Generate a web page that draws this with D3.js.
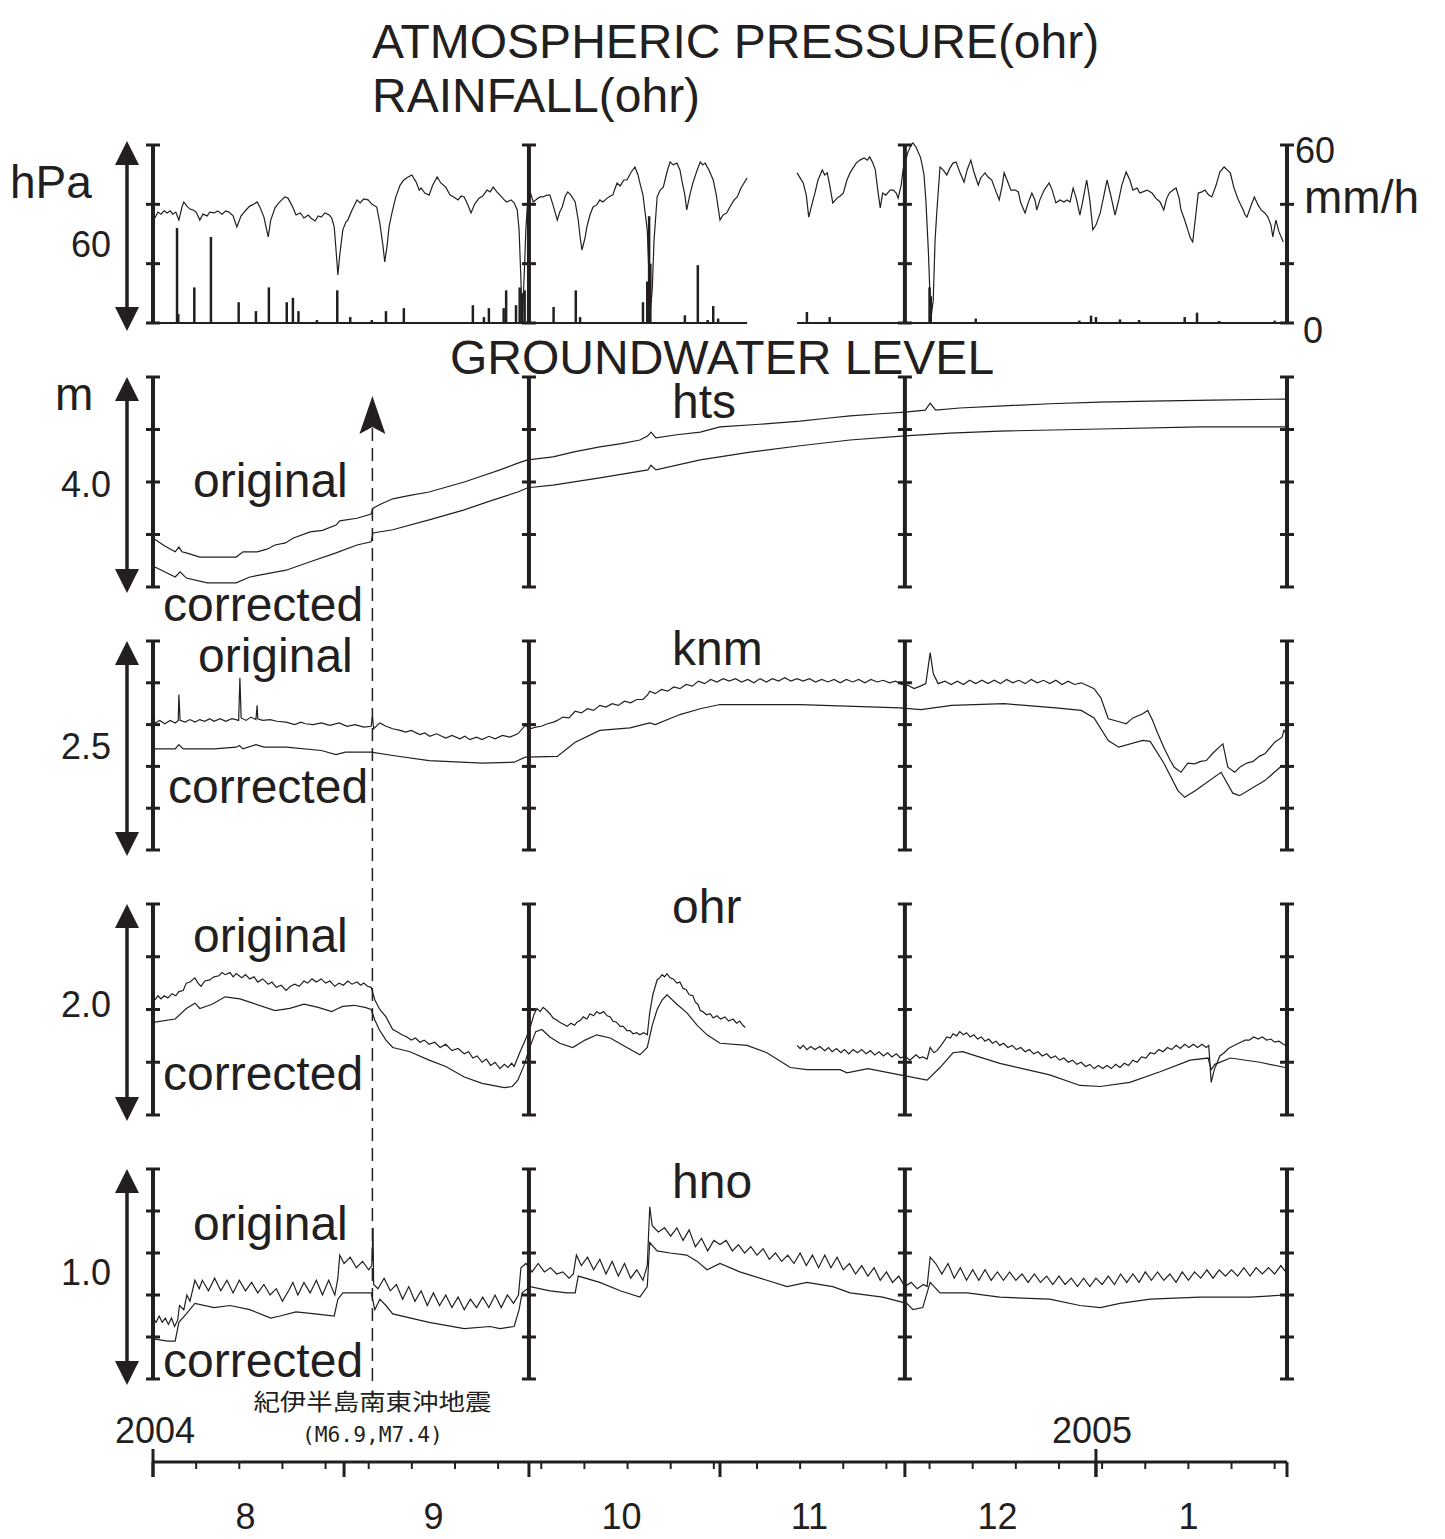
<!DOCTYPE html>
<html>
<head>
<meta charset="utf-8">
<script src="https://cdn.jsdelivr.net/npm/d3@7"></script>
<style>
  body { margin: 0; background: #fff; }
  text { font-family: "Liberation Sans", Arial, sans-serif; fill: #231f20; }
</style>
</head>
<body>
<svg id="chart" width="1445" height="1539"></svg>
<script>
// ---- data: day = days since 2004-08-01 ----
var monthLabels = ["8", "9", "10", "11", "12", "1"];
var monthStartDays = [0, 31, 61, 92, 122, 153, 184];
var yearLabels = ["2004", "2005"];
var yearStartDays = [0, 153];
var barDays = [0, 61, 122, 184];
var quakeDay = 35.6;
var quakeName = "紀伊半島南東沖地震";
var quakeMag = "(M6.9,M7.4)";
var missingStart = 96.4, missingEnd = 104.5;

var pressureSpan = 60;      // hPa shown by the arrow
var rainMax = 60;           // mm/h
// atmospheric pressure (hPa)
var pressure = [[0.3,1005.4],[0.8,1007.4],[1.3,1006.7],[1.8,1007.8],[2.3,1007.1],[2.8,1007.8],[3.2,1006.7],[3.7,1007.4],[4.2,1004.7],[4.7,1009.1],[5.0,1010.8],[5.5,1009.4],[6.0,1008.4],[6.5,1008.1],[7.0,1007.4],[7.6,1004.7],[8.1,1006.7],[8.8,1006.1],[9.2,1007.4],[9.9,1007.1],[10.5,1007.8],[11.2,1006.7],[11.8,1007.8],[12.3,1007.4],[13.0,1006.1],[13.6,1002.4],[14.3,1006.1],[15.1,1008.1],[15.7,1009.4],[16.4,1010.1],[16.9,1010.8],[17.4,1008.8],[18.0,1005.7],[18.3,1002.7],[18.7,999.0],[19.1,1004.7],[19.8,1008.8],[20.4,1010.5],[20.9,1011.5],[21.4,1012.5],[21.9,1012.1],[22.6,1009.4],[23.2,1006.4],[23.9,1007.1],[24.5,1005.4],[25.2,1006.4],[25.6,1005.4],[26.3,1004.4],[26.8,1006.1],[27.3,1005.7],[27.9,1007.1],[28.6,1006.4],[29.0,1005.4],[29.4,1002.4],[29.7,994.6],[30.0,986.2],[30.3,992.9],[30.8,1001.4],[31.3,1004.0],[31.6,1004.7],[32.3,1008.1],[33.1,1011.5],[33.6,1010.5],[34.2,1011.8],[34.9,1011.5],[35.5,1010.1],[36.3,1009.1],[36.8,1003.7],[37.3,996.3],[37.6,990.6],[38.0,996.3],[38.3,1002.4],[38.8,1007.4],[39.4,1012.5],[40.1,1016.5],[40.7,1018.2],[41.4,1019.2],[42.0,1019.9],[42.7,1017.5],[43.2,1014.8],[43.5,1015.5],[44.1,1013.8],[44.8,1013.1],[45.4,1016.5],[46.1,1019.2],[46.7,1017.2],[47.5,1015.8],[48.2,1013.1],[48.8,1012.5],[49.5,1011.5],[50.0,1012.8],[50.5,1012.5],[51.1,1009.8],[51.6,1007.1],[52.2,1010.1],[52.9,1012.1],[53.5,1012.8],[54.2,1014.8],[54.7,1014.2],[55.2,1015.8],[55.8,1014.2],[56.3,1013.1],[57.0,1011.5],[57.4,1010.8],[58.1,1011.5],[58.6,1010.5],[59.1,1008.1],[59.4,1001.4],[59.7,984.5],[59.9,970.3],[60.2,984.5],[60.5,1001.4],[60.8,1011.5],[61.2,1014.2],[61.7,1010.8],[62.3,1011.8],[62.8,1012.5],[63.3,1012.5],[63.9,1013.1],[64.4,1013.1],[64.9,1009.8],[65.6,1004.7],[66.0,1007.4],[66.4,1009.1],[66.9,1012.8],[67.3,1014.2],[67.8,1013.1],[68.5,1010.8],[69.0,1004.7],[69.3,999.0],[69.6,994.6],[70.1,998.7],[70.4,1002.4],[70.9,1006.4],[71.4,1009.1],[72.0,1009.8],[72.5,1011.5],[73.0,1010.8],[73.7,1012.1],[74.2,1012.8],[74.6,1013.1],[75.0,1015.5],[75.3,1017.2],[75.8,1016.2],[76.4,1018.2],[76.9,1018.2],[77.6,1020.9],[78.2,1022.6],[78.7,1019.9],[79.0,1017.2],[79.5,1013.1],[79.8,1008.1],[80.2,1001.4],[80.5,984.5],[80.6,971.7],[81.0,981.1],[81.3,998.0],[81.8,1012.5],[82.3,1014.8],[82.8,1015.8],[83.4,1020.9],[83.9,1024.3],[84.4,1023.3],[85.0,1023.9],[85.5,1021.6],[85.8,1018.2],[86.3,1013.1],[86.6,1008.1],[87.1,1013.1],[87.6,1017.2],[88.3,1021.6],[88.8,1024.3],[89.2,1023.3],[89.6,1023.9],[90.2,1021.6],[90.9,1018.2],[91.4,1013.1],[92.0,1004.7],[92.5,1006.4],[93.1,1007.1],[93.6,1009.1],[94.3,1011.5],[94.8,1012.5],[95.4,1015.5],[95.9,1017.2],[96.4,1018.9],[100,null],
  [104.5,1020.6],[105.0,1018.9],[105.5,1017.2],[106.0,1013.1],[106.4,1005.7],[106.9,1009.8],[107.4,1013.8],[107.9,1018.2],[108.6,1021.6],[109.0,1019.9],[109.4,1020.6],[109.8,1016.5],[110.3,1010.5],[111.0,1012.1],[111.5,1012.8],[112.0,1013.8],[112.6,1018.2],[113.1,1020.6],[113.4,1021.6],[114.1,1023.9],[114.7,1024.9],[115.4,1025.6],[115.9,1024.9],[116.3,1026.0],[116.8,1023.9],[117.2,1021.6],[117.6,1014.8],[118.0,1008.8],[118.4,1013.8],[118.9,1013.1],[119.6,1014.8],[120.1,1014.8],[120.6,1013.8],[120.9,1012.1],[121.4,1016.5],[121.7,1021.6],[122.0,1023.9],[122.5,1027.6],[123.0,1030.0],[123.3,1030.7],[123.8,1029.3],[124.5,1026.0],[124.8,1023.3],[125.1,1019.9],[125.4,1011.5],[125.8,994.6],[126.1,977.8],[126.2,971.0],[126.6,977.8],[126.9,998.0],[127.2,1008.1],[127.7,1022.6],[128.2,1021.6],[128.8,1019.9],[129.3,1022.2],[129.8,1023.9],[130.3,1024.3],[130.9,1020.9],[131.6,1017.5],[132.1,1021.6],[132.7,1024.9],[133.2,1020.9],[133.9,1016.5],[134.3,1018.9],[135.0,1020.6],[135.5,1019.2],[136.1,1018.2],[136.8,1014.2],[137.3,1011.5],[137.8,1016.5],[138.1,1020.6],[138.7,1017.5],[139.2,1014.8],[139.9,1014.8],[140.4,1014.2],[140.8,1010.5],[141.5,1007.1],[142.0,1010.5],[142.6,1013.8],[143.1,1011.5],[143.4,1008.1],[143.9,1011.5],[144.6,1014.8],[145.4,1017.2],[145.9,1014.8],[146.5,1010.5],[147.2,1011.5],[147.8,1010.8],[148.3,1011.5],[148.8,1010.8],[149.3,1015.5],[149.8,1012.1],[150.4,1006.4],[150.9,1011.5],[151.5,1018.2],[152.0,1011.5],[152.5,1001.4],[153.0,1003.0],[153.7,1007.1],[154.3,1013.1],[154.8,1018.2],[155.4,1013.1],[156.1,1006.4],[156.7,1011.5],[157.2,1016.5],[157.9,1020.9],[158.5,1018.2],[159.0,1014.8],[159.7,1015.5],[160.1,1013.8],[160.6,1014.2],[161.3,1014.8],[162.1,1013.8],[162.7,1012.1],[163.4,1010.8],[164.0,1008.1],[164.5,1012.1],[164.9,1013.8],[165.5,1014.8],[166.0,1015.5],[166.5,1012.1],[166.8,1008.1],[167.4,1004.7],[167.9,1001.4],[168.3,998.7],[168.7,997.3],[169.2,1006.4],[169.6,1013.8],[170.2,1014.2],[170.7,1014.8],[171.3,1013.1],[171.8,1012.5],[172.5,1016.5],[173.1,1020.9],[173.8,1022.6],[174.3,1021.6],[174.8,1020.6],[175.4,1015.5],[176.1,1011.5],[176.5,1009.8],[176.9,1008.1],[177.2,1006.4],[177.5,1005.7],[178.2,1009.8],[178.7,1012.5],[179.3,1009.8],[179.8,1008.1],[180.4,1007.1],[180.9,1005.7],[181.4,1003.0],[181.7,999.0],[182.2,1004.7],[182.7,1000.7],[183.4,997.3]];

// hourly rainfall peaks (mm/h)
var rainfall = [[3.9,32],[4.1,3],[6.7,12],[9.4,29],[13.9,7],[16.7,4],[18.8,12],[21.7,7],[22.7,8.5],[23.6,4],[26.6,1],[29.9,11],[32.0,2],[35.5,1],[37.8,4],[40.7,5],[51.9,6],[53.7,2],[54.5,5],[56.9,5],[57.3,11],[58.9,6],[59.5,12],[59.9,10],[60.3,11],[65.0,5.4],[68.6,11],[69.3,2],[79.5,7],[80.2,14],[80.5,36],[80.7,20],[86.3,2.6],[88.4,19.5],[90.0,1],[90.9,5.7],[91.7,1.5],[106.1,3.7],[109.8,2],[126.0,12],[126.2,9],[133.5,1.5],[150.3,0.8],[152.2,2.5],[153.0,2],[156.9,1.2],[160.0,1],[167.4,2],[169.4,3.5],[173.0,0.7],[182.0,0.8]];

// groundwater level (m, relative)
var gwStations = ["hts", "knm", "ohr", "hno"];
var gwSpans = [4.0, 2.5, 2.0, 1.0];
var gwTickSteps = [1.0, 0.5, 0.5, 0.2];

var htsOriginal = [[0.3,0.91],[1.9,0.78],[3.6,0.67],[4.2,0.76],[4.7,0.67],[5.4,0.65],[7.6,0.57],[10.5,0.57],[13.5,0.57],[14.6,0.67],[16.9,0.67],[18.5,0.72],[19.8,0.80],[21.5,0.84],[22.7,0.93],[25.5,1.05],[27.5,1.08],[29.7,1.18],[30.3,1.26],[33.1,1.31],[35.4,1.39],[35.7,1.50],[37.0,1.58],[38.9,1.68],[41.5,1.74],[44.8,1.81],[47.5,1.90],[50.5,2.00],[53.5,2.12],[56.3,2.23],[59.2,2.36],[60.8,2.42],[64.9,2.48],[68.5,2.58],[72.5,2.67],[76.0,2.73],[79.0,2.80],[80.3,2.88],[80.8,2.95],[81.6,2.84],[85.0,2.90],[88.8,2.95],[92.0,3.05],[98.5,3.10],[105.0,3.16],[109.0,3.21],[113.1,3.26],[118.0,3.30],[122.0,3.33],[125.3,3.37],[126.1,3.50],[127.0,3.37],[130.9,3.41],[138.0,3.45],[145.5,3.49],[153.5,3.52],[161.8,3.54],[172.0,3.56],[183.7,3.58]];
var htsCorrected = [[0.3,0.38],[3.6,0.19],[4.4,0.29],[5.4,0.17],[8.8,0.08],[13.5,0.08],[15.7,0.19],[21.6,0.32],[25.5,0.48],[29.7,0.65],[33.1,0.80],[35.4,0.86],[35.7,1.03],[38.9,1.09],[44.8,1.28],[50.5,1.47],[55.0,1.65],[59.2,1.81],[60.8,1.89],[64.9,1.94],[72.5,2.08],[80.3,2.23],[80.8,2.32],[81.6,2.23],[88.8,2.42],[96.9,2.57],[105.0,2.69],[113.1,2.80],[122.0,2.88],[129.3,2.93],[137.4,2.97],[153.7,3.01],[169.9,3.05],[183.7,3.05]];

var knmOriginal = [[0.3,1.52],[1.1,1.55],[1.9,1.51],[2.8,1.55],[3.6,1.52],[4.1,1.55],[4.2,1.86],[4.4,1.55],[5.2,1.53],[6.0,1.56],[6.8,1.53],[7.6,1.56],[8.4,1.54],[9.2,1.57],[9.9,1.54],[10.9,1.57],[11.8,1.54],[12.8,1.57],[13.9,1.55],[14.1,2.06],[14.3,1.58],[15.1,1.55],[15.9,1.59],[16.7,1.56],[16.9,1.73],[17.0,1.57],[17.8,1.55],[19.0,1.56],[20.1,1.54],[21.6,1.53],[23.0,1.50],[24.0,1.53],[24.7,1.51],[26.0,1.50],[27.3,1.52],[28.7,1.49],[30.2,1.52],[31.5,1.48],[32.8,1.50],[34.2,1.47],[35.4,1.48],[35.6,1.60],[35.8,1.45],[36.8,1.52],[37.8,1.48],[38.9,1.45],[40.1,1.43],[41.0,1.41],[41.9,1.43],[43.3,1.38],[44.1,1.40],[44.9,1.36],[46.0,1.39],[47.5,1.34],[48.5,1.37],[49.8,1.33],[50.6,1.36],[51.4,1.32],[52.5,1.35],[53.4,1.32],[54.5,1.36],[55.5,1.33],[56.7,1.37],[57.9,1.35],[59.2,1.39],[60.4,1.49],[61.2,1.45],[62.1,1.47],[63.0,1.48],[64.0,1.51],[65.0,1.53],[65.6,1.55],[66.5,1.59],[67.5,1.58],[68.5,1.66],[69.5,1.64],[70.5,1.69],[71.5,1.67],[72.5,1.73],[73.5,1.71],[74.5,1.75],[75.5,1.73],[76.5,1.78],[77.5,1.76],[78.5,1.80],[79.5,1.80],[80.3,1.86],[80.6,1.90],[81.5,1.87],[82.5,1.92],[83.5,1.90],[84.5,1.95],[85.5,1.93],[86.5,1.98],[87.5,1.96],[88.5,2.02],[89.5,1.99],[90.5,2.04],[91.5,2.01],[92.5,2.05],[93.5,2.02],[94.5,2.05],[95.5,2.01],[96.5,2.04],[97.5,2.00],[98.5,2.05],[99.5,2.01],[100.5,2.05],[101.5,2.02],[102.5,2.06],[103.5,2.02],[104.5,2.05],[105.5,2.02],[106.5,2.05],[107.5,2.01],[108.5,2.04],[109.5,2.01],[110.5,2.04],[111.5,2.00],[112.5,2.04],[113.5,2.01],[114.5,2.04],[115.5,2.00],[116.5,2.04],[117.5,2.01],[118.5,2.03],[119.5,2.00],[120.5,2.02],[121.5,1.98],[122.5,1.97],[123.5,1.93],[124.5,1.96],[125.4,1.99],[126.1,2.36],[126.6,2.11],[127.4,1.99],[128.5,2.02],[129.5,1.98],[130.5,2.02],[131.5,1.98],[132.5,2.03],[133.5,1.99],[134.5,2.03],[135.5,1.99],[136.5,2.03],[137.5,1.99],[138.5,2.04],[139.5,2.00],[140.5,2.03],[141.5,1.99],[142.5,2.04],[143.5,2.00],[144.5,2.03],[145.5,1.99],[146.5,2.03],[147.5,1.98],[148.5,2.02],[149.5,1.98],[150.6,2.00],[151.5,1.97],[152.7,1.93],[153.8,1.82],[155.0,1.57],[156.5,1.54],[157.9,1.51],[159.0,1.58],[160.6,1.63],[161.4,1.67],[162.2,1.55],[163.0,1.40],[164.0,1.23],[165.0,1.08],[165.7,0.99],[166.8,0.93],[167.9,1.04],[169.0,1.03],[170.0,1.06],[170.9,1.07],[172.0,1.16],[173.0,1.23],[173.6,1.27],[174.4,0.99],[175.5,0.93],[176.5,1.00],[177.5,1.04],[178.5,1.06],[179.5,1.12],[180.4,1.15],[181.2,1.22],[182.0,1.29],[183.2,1.35],[183.5,1.43],[183.8,1.40]];
var knmCorrected = [[0.3,1.21],[3.6,1.21],[4.2,1.26],[4.9,1.21],[9.9,1.21],[13.5,1.23],[14.0,1.25],[14.6,1.21],[16.7,1.26],[18.0,1.23],[21.6,1.23],[27.3,1.19],[29.7,1.14],[31.2,1.17],[35.4,1.17],[38.9,1.13],[44.8,1.07],[53.4,1.04],[58.6,1.05],[60.4,1.11],[65.6,1.12],[68.5,1.29],[72.5,1.43],[77.4,1.46],[80.6,1.52],[81.5,1.50],[85.5,1.62],[88.8,1.69],[92.0,1.74],[105.0,1.74],[121.2,1.70],[124.6,1.68],[129.6,1.73],[138.1,1.75],[146.5,1.70],[150.6,1.67],[152.7,1.58],[155.0,1.31],[156.7,1.23],[160.6,1.31],[161.8,1.30],[164.0,1.04],[166.3,0.71],[167.4,0.63],[169.1,0.71],[173.3,0.93],[175.2,0.68],[176.3,0.65],[180.4,0.83],[183.2,1.01]];

var ohrOriginal = [[0.3,1.09],[0.8,1.13],[1.3,1.10],[1.8,1.13],[2.4,1.11],[3.1,1.15],[3.7,1.13],[4.2,1.17],[4.9,1.18],[5.4,1.25],[6.0,1.26],[6.8,1.30],[7.3,1.25],[7.8,1.22],[8.4,1.27],[9.2,1.28],[9.9,1.31],[10.7,1.32],[11.2,1.35],[11.7,1.33],[12.5,1.35],[13.0,1.31],[13.5,1.34],[14.4,1.30],[15.0,1.33],[15.7,1.29],[16.4,1.31],[17.0,1.26],[17.8,1.29],[18.7,1.24],[19.3,1.26],[20.0,1.21],[20.8,1.23],[21.6,1.18],[22.3,1.22],[23.0,1.24],[23.7,1.22],[24.5,1.27],[25.1,1.25],[25.8,1.29],[26.5,1.26],[27.3,1.29],[28.0,1.25],[28.7,1.27],[29.5,1.22],[30.2,1.25],[30.9,1.23],[31.6,1.27],[32.3,1.24],[33.1,1.26],[33.7,1.23],[34.2,1.25],[34.8,1.22],[35.4,1.21],[36.0,1.09],[36.8,1.00],[37.8,0.93],[38.9,0.81],[39.6,0.79],[40.4,0.76],[41.2,0.74],[41.9,0.71],[42.6,0.73],[43.3,0.69],[44.0,0.71],[44.8,0.67],[45.7,0.69],[46.6,0.64],[47.5,0.67],[48.5,0.61],[49.5,0.63],[50.5,0.58],[51.2,0.60],[51.9,0.54],[52.6,0.56],[53.4,0.50],[54.1,0.53],[54.8,0.47],[55.5,0.50],[56.3,0.44],[57.0,0.48],[57.6,0.45],[58.2,0.49],[58.6,0.46],[59.5,0.59],[60.4,0.71],[61.2,0.83],[61.8,0.95],[62.3,1.01],[62.8,0.98],[63.3,1.02],[63.9,0.99],[64.4,0.96],[64.9,0.92],[65.5,0.90],[66.0,0.88],[66.6,0.86],[67.2,0.84],[67.8,0.87],[68.4,0.85],[68.8,0.88],[69.4,0.90],[69.8,0.93],[70.4,0.91],[70.9,0.96],[71.5,0.94],[72.0,0.98],[72.5,0.96],[73.1,0.98],[73.7,0.94],[74.2,0.93],[74.6,0.89],[75.2,0.88],[75.8,0.84],[76.3,0.84],[76.9,0.80],[77.4,0.80],[77.9,0.77],[78.5,0.78],[79.0,0.76],[79.6,0.78],[80.2,0.76],[80.6,0.97],[81.1,1.14],[81.8,1.28],[82.2,1.30],[82.6,1.33],[83.0,1.31],[83.4,1.34],[83.9,1.30],[84.4,1.29],[85.0,1.25],[85.5,1.26],[86.0,1.20],[86.5,1.19],[87.0,1.14],[87.6,1.13],[88.0,1.07],[88.4,1.05],[88.8,0.99],[89.2,0.98],[89.8,0.95],[90.4,0.96],[90.9,0.92],[91.5,0.94],[92.1,0.91],[92.8,0.93],[93.4,0.89],[94.1,0.91],[94.7,0.87],[95.2,0.89],[95.7,0.85],[96.1,0.83],[100,null],
  [104.5,0.66],[105.0,0.63],[105.5,0.66],[106.1,0.62],[106.7,0.65],[107.4,0.62],[108.2,0.65],[109.0,0.61],[109.6,0.64],[110.2,0.60],[110.9,0.63],[111.6,0.59],[112.2,0.62],[112.9,0.58],[113.6,0.62],[114.3,0.59],[115.0,0.62],[115.7,0.58],[116.4,0.61],[117.1,0.57],[117.8,0.60],[118.5,0.56],[119.2,0.59],[119.9,0.55],[120.6,0.58],[121.3,0.54],[122.0,0.56],[122.8,0.52],[123.4,0.55],[123.8,0.57],[124.4,0.54],[124.9,0.55],[125.6,0.53],[126.1,0.64],[126.7,0.59],[127.2,0.61],[128.0,0.67],[128.8,0.74],[129.4,0.73],[129.8,0.77],[130.4,0.75],[130.9,0.79],[131.5,0.76],[132.0,0.78],[132.6,0.74],[133.2,0.76],[133.8,0.72],[134.4,0.74],[135.0,0.70],[135.6,0.72],[136.2,0.68],[136.8,0.70],[137.4,0.66],[138.0,0.68],[138.7,0.64],[139.4,0.66],[140.1,0.62],[140.8,0.64],[141.5,0.60],[142.2,0.62],[142.9,0.58],[143.6,0.60],[144.3,0.56],[145.0,0.58],[145.7,0.54],[146.4,0.56],[147.1,0.52],[147.8,0.54],[148.5,0.50],[149.2,0.52],[149.9,0.48],[150.6,0.50],[151.3,0.46],[152.0,0.48],[152.7,0.44],[153.4,0.47],[154.1,0.44],[154.8,0.47],[155.5,0.44],[156.2,0.48],[156.9,0.45],[157.6,0.49],[158.3,0.47],[159.0,0.52],[159.7,0.50],[160.4,0.55],[161.1,0.54],[161.8,0.59],[162.5,0.58],[163.2,0.62],[163.9,0.60],[164.6,0.64],[165.3,0.62],[166.0,0.66],[166.7,0.63],[167.4,0.67],[168.1,0.64],[168.8,0.67],[169.5,0.64],[170.2,0.67],[170.9,0.64],[171.3,0.66],[171.7,0.31],[172.2,0.43],[172.7,0.50],[173.1,0.56],[173.8,0.59],[174.5,0.63],[175.1,0.65],[175.8,0.67],[176.5,0.69],[177.2,0.71],[177.9,0.71],[178.6,0.74],[179.3,0.72],[180.0,0.74],[180.7,0.71],[181.4,0.72],[182.0,0.69],[182.7,0.70],[183.4,0.67],[183.8,0.66]];
var ohrCorrected = [[0.3,0.88],[3.6,0.91],[5.4,1.01],[6.8,1.06],[7.6,1.01],[9.6,1.05],[11.7,1.12],[14.1,1.10],[15.7,1.07],[19.8,0.99],[22.2,1.01],[24.5,1.05],[26.8,1.02],[29.0,0.98],[30.0,1.01],[30.8,1.03],[32.6,1.04],[34.4,1.02],[35.4,1.00],[36.0,0.90],[36.7,0.81],[37.8,0.71],[38.9,0.64],[41.7,0.60],[44.8,0.52],[47.5,0.46],[50.5,0.36],[53.4,0.30],[57.0,0.26],[58.3,0.27],[59.2,0.33],[60.2,0.47],[61.0,0.62],[62.1,0.79],[63.1,0.81],[64.4,0.74],[66.0,0.68],[68.1,0.64],[70.1,0.71],[72.0,0.76],[74.2,0.73],[76.6,0.65],[79.0,0.57],[80.2,0.64],[81.0,0.85],[81.8,1.00],[82.6,1.09],[83.4,1.14],[85.0,1.05],[86.6,0.97],[88.3,0.85],[89.9,0.76],[92.0,0.68],[96.4,0.66],[99.6,0.59],[103.4,0.45],[106.1,0.43],[111.5,0.43],[112.6,0.40],[116.0,0.44],[121.2,0.38],[125.6,0.33],[127.7,0.45],[129.8,0.59],[131.4,0.60],[133.0,0.57],[137.4,0.49],[145.5,0.38],[150.4,0.28],[153.7,0.27],[158.5,0.31],[163.4,0.41],[168.3,0.52],[171.2,0.54],[171.7,0.43],[172.3,0.48],[174.8,0.54],[179.6,0.50],[183.7,0.45]];

var hnoOriginal = [[0,0.29],[0.5,0.27],[1,0.30],[1.5,0.27],[2,0.29],[2.5,0.26],[3,0.29],[3.5,0.25],[4,0.28],[4.3,0.35],[5,0.33],[5.5,0.40],[6,0.37],[6.8,0.47],[7.5,0.43],[8,0.47],[9,0.42],[10,0.48],[11,0.42],[12,0.47],[13,0.41],[14,0.47],[15,0.42],[16,0.46],[17,0.41],[18,0.45],[19,0.40],[20,0.43],[21,0.37],[22,0.42],[22.7,0.46],[23.5,0.40],[24.5,0.46],[25.5,0.41],[26.5,0.47],[27.5,0.40],[28.5,0.47],[29.5,0.40],[30,0.48],[30.3,0.59],[31,0.55],[32,0.58],[33,0.53],[34,0.56],[35,0.52],[35.5,0.54],[35.7,0.72],[35.8,0.45],[36.5,0.43],[37.5,0.48],[38.5,0.42],[39.5,0.45],[40.5,0.38],[41.5,0.44],[42.5,0.37],[43.5,0.42],[44.5,0.35],[45.5,0.41],[46.5,0.35],[47.5,0.40],[48.5,0.34],[49.5,0.39],[50.5,0.33],[51.5,0.38],[52.5,0.34],[53.5,0.39],[54.5,0.34],[55.5,0.40],[56.5,0.34],[57.5,0.40],[58.5,0.36],[59.3,0.40],[59.7,0.53],[60.5,0.55],[61.5,0.51],[62.5,0.55],[63.5,0.51],[64.5,0.53],[65.5,0.50],[66.5,0.51],[67.5,0.48],[68.2,0.50],[68.7,0.59],[69.5,0.54],[70.5,0.58],[71.5,0.52],[72.5,0.57],[73.5,0.50],[74.5,0.56],[75.5,0.49],[76.5,0.55],[77.5,0.48],[78.5,0.52],[79.5,0.47],[80.2,0.54],[80.6,0.82],[81,0.73],[82,0.70],[83,0.72],[84,0.68],[85,0.72],[86,0.66],[87,0.71],[88,0.63],[89,0.67],[90,0.61],[91,0.66],[92,0.64],[93,0.66],[94,0.61],[95,0.64],[96,0.60],[97,0.63],[98,0.59],[99,0.62],[100,0.57],[101,0.60],[102,0.56],[103,0.59],[104,0.55],[105,0.60],[106,0.54],[107,0.59],[108,0.53],[109,0.59],[110,0.53],[111,0.58],[112,0.52],[113,0.55],[114,0.50],[115,0.54],[116,0.49],[117,0.53],[118,0.47],[119,0.51],[120,0.46],[121,0.49],[122,0.44],[123,0.46],[124,0.43],[125,0.45],[125.6,0.44],[126.1,0.58],[127,0.55],[128,0.50],[129,0.55],[130,0.48],[131,0.53],[132,0.47],[133,0.52],[134,0.47],[135,0.52],[136,0.47],[137,0.51],[138,0.47],[139,0.51],[140,0.47],[141,0.50],[142,0.46],[143,0.50],[144,0.46],[145,0.49],[146,0.45],[147,0.49],[148,0.45],[149,0.48],[150,0.44],[151,0.48],[152,0.44],[153,0.48],[154,0.45],[155,0.49],[156,0.45],[157,0.50],[158,0.46],[159,0.50],[160,0.46],[161,0.51],[162,0.47],[163,0.51],[164,0.47],[165,0.50],[166,0.46],[167,0.51],[168,0.47],[169,0.51],[170,0.48],[171,0.52],[172,0.48],[173,0.52],[174,0.49],[175,0.52],[176,0.49],[177,0.53],[178,0.49],[179,0.53],[180,0.50],[181,0.53],[182,0.50],[183,0.54],[183.8,0.51]];
var hnoCorrected = [[0.3,0.19],[2.4,0.18],[3.6,0.18],[4.2,0.27],[5.4,0.31],[6.8,0.36],[9.9,0.34],[12.5,0.35],[15.7,0.33],[19.1,0.29],[20.6,0.30],[23.2,0.32],[26.3,0.31],[29.4,0.30],[30.0,0.38],[30.8,0.41],[35.4,0.41],[36.0,0.33],[36.8,0.38],[37.8,0.35],[38.9,0.31],[44.8,0.27],[50.5,0.24],[54.7,0.25],[56.3,0.24],[58.6,0.25],[59.4,0.33],[59.9,0.41],[61.2,0.44],[64.4,0.42],[67.2,0.41],[68.5,0.41],[69.0,0.49],[72.5,0.46],[75.8,0.42],[79.0,0.39],[80.2,0.44],[80.6,0.65],[81.8,0.61],[83.9,0.60],[86.6,0.59],[88.3,0.56],[89.9,0.52],[92.0,0.55],[95.2,0.51],[99.6,0.47],[102.9,0.44],[106.1,0.46],[110.3,0.44],[113.1,0.41],[118.4,0.39],[122.3,0.36],[123.3,0.33],[124.9,0.34],[126.1,0.46],[127.7,0.41],[132.1,0.41],[137.4,0.39],[145.5,0.38],[150.4,0.35],[153.7,0.34],[156.9,0.36],[161.8,0.38],[169.9,0.39],[178.0,0.39],[183.7,0.40]];

var gwOriginal = [htsOriginal, knmOriginal, ohrOriginal, hnoOriginal];
var gwCorrected = [htsCorrected, knmCorrected, ohrCorrected, hnoCorrected];

// ---- layout ----
var svg = d3.select("#chart");
svg.append("rect").attr("width", 1445).attr("height", 1539).attr("fill", "#fff");
var ink = "#231f20";

var x = d3.scaleLinear().domain([0, 184]).range([153, 1287]);

var line = function(yScale) {
  return d3.line()
    .defined(function(d) { return d[1] !== null; })
    .x(function(d) { return x(d[0]); })
    .y(function(d) { return yScale(d[1]); });
};

// vertical bar with cross ticks (I-beam)
function drawBars(yScale, ticks) {
  var r = yScale.range();
  barDays.forEach(function(day) {
    var bx = x(day);
    svg.append("line")
      .attr("x1", bx).attr("x2", bx)
      .attr("y1", r[1]).attr("y2", r[0])
      .attr("stroke", ink).attr("stroke-width", 4);
    ticks.forEach(function(t) {
      svg.append("line")
        .attr("x1", bx - 7).attr("x2", bx + 7)
        .attr("y1", yScale(t)).attr("y2", yScale(t))
        .attr("stroke", ink).attr("stroke-width", 3);
    });
  });
}

// double headed arrow on the left
function drawArrow(top, bottom) {
  var ax = 127;
  svg.append("line")
    .attr("x1", ax).attr("x2", ax)
    .attr("y1", top + 15).attr("y2", bottom - 15)
    .attr("stroke", ink).attr("stroke-width", 3.5);
  svg.append("path")
    .attr("d", "M" + ax + "," + top + "L" + (ax + 12) + "," + (top + 24) + "L" + (ax - 12) + "," + (top + 24) + "Z")
    .attr("fill", ink);
  svg.append("path")
    .attr("d", "M" + ax + "," + bottom + "L" + (ax + 12) + "," + (bottom - 24) + "L" + (ax - 12) + "," + (bottom - 24) + "Z")
    .attr("fill", ink);
}

function label(txt, lx, ly, size, anchor) {
  return svg.append("text")
    .attr("x", lx).attr("y", ly)
    .attr("font-size", size)
    .attr("text-anchor", anchor || "start")
    .text(txt);
}

// ---- titles ----
label("ATMOSPHERIC PRESSURE(ohr)", 372, 58, 48);
label("RAINFALL(ohr)", 372, 112, 48);
label("GROUNDWATER LEVEL", 450, 374, 48);

// ---- pressure / rainfall panel ----
var pTop = 145, pBottom = 323;
var yP = d3.scaleLinear().domain([970, 970 + pressureSpan]).range([pBottom, pTop]);
var yR = d3.scaleLinear().domain([0, rainMax]).range([pBottom, pTop]);

drawBars(yP, d3.range(970, 970 + pressureSpan + 1, 20));
drawArrow(pTop - 4, pBottom + 8);
label("hPa", 10, 198, 46);
label(d3.format("d")(pressureSpan), 111, 257, 36, "end");
label(d3.format("d")(rainMax), 1295, 163, 36);
label("mm/h", 1304, 213, 46);
label("0", 1303, 343, 36);

// rain baseline over the recording periods
[[0, missingStart], [missingEnd, 184]].forEach(function(seg) {
  svg.append("line")
    .attr("x1", x(seg[0])).attr("x2", x(seg[1]))
    .attr("y1", yR(0)).attr("y2", yR(0))
    .attr("stroke", ink).attr("stroke-width", 2);
});

svg.selectAll(".rain")
  .data(rainfall)
  .enter().append("line")
    .attr("class", "rain")
    .attr("x1", function(d) { return x(d[0]); })
    .attr("x2", function(d) { return x(d[0]); })
    .attr("y1", yR(0))
    .attr("y2", function(d) { return yR(d[1]); })
    .attr("stroke", ink).attr("stroke-width", 2.5);

svg.append("path")
  .datum(pressure)
  .attr("d", line(yP))
  .attr("fill", "none").attr("stroke", ink).attr("stroke-width", 1.2);

// ---- groundwater panels ----
var gwLayout = [
  {top: 377, bottom: 587, nameY: 418, orig: [193, 497], corr: [163, 621], spanY: 497},
  {top: 641, bottom: 850, nameY: 665, orig: [198, 672], corr: [168, 803], spanY: 759},
  {top: 904, bottom: 1115, nameY: 923, orig: [193, 952], corr: [163, 1090], spanY: 1017},
  {top: 1169, bottom: 1379, nameY: 1198, orig: [193, 1240], corr: [163, 1377], spanY: 1285}
];

gwStations.forEach(function(name, i) {
  var L = gwLayout[i];
  var span = gwSpans[i];
  var yG = d3.scaleLinear().domain([0, span]).range([L.bottom, L.top]);
  var ticks = d3.range(0, span + gwTickSteps[i] / 2, gwTickSteps[i]);

  drawBars(yG, ticks);
  drawArrow(L.top, L.bottom + 6);
  label(d3.format(".1f")(span), 111, L.spanY, 36, "end");
  if (i === 0) label("m", 55, 410, 46);

  label(name, 672, L.nameY, 48);
  label("original", L.orig[0], L.orig[1], 48);
  label("corrected", L.corr[0], L.corr[1], 48);

  svg.append("path")
    .datum(gwOriginal[i])
    .attr("d", line(yG))
    .attr("fill", "none").attr("stroke", ink).attr("stroke-width", 1.2);
  svg.append("path")
    .datum(gwCorrected[i])
    .attr("d", line(yG))
    .attr("fill", "none").attr("stroke", ink).attr("stroke-width", 1.2);
});

// ---- earthquake marker ----
var qx = x(quakeDay);
svg.append("line")
  .attr("x1", qx).attr("x2", qx)
  .attr("y1", 428).attr("y2", 1382)
  .attr("stroke", ink).attr("stroke-width", 1.5)
  .attr("stroke-dasharray", "13,7");
svg.append("path")
  .attr("d", "M" + qx + ",396L" + (qx + 13) + ",434L" + qx + ",427L" + (qx - 13) + ",434Z")
  .attr("fill", ink);

svg.append("text")
  .attr("x", qx).attr("y", 1410)
  .attr("text-anchor", "middle")
  .attr("font-size", 23)
  .attr("textLength", 238).attr("lengthAdjust", "spacingAndGlyphs")
  .style("font-family", "'Noto Sans CJK JP', sans-serif")
  .text(quakeName);
svg.append("text")
  .attr("x", qx).attr("y", 1442)
  .attr("text-anchor", "middle")
  .attr("font-size", 22)
  .attr("textLength", 141).attr("lengthAdjust", "spacingAndGlyphs")
  .style("font-family", "'DejaVu Sans Mono', monospace")
  .text(quakeMag);

// ---- bottom time axis ----
var axisY = 1462;
svg.append("line")
  .attr("x1", x(0)).attr("x2", x(184))
  .attr("y1", axisY).attr("y2", axisY)
  .attr("stroke", ink).attr("stroke-width", 3);

d3.range(0, 184, 7).forEach(function(day) {
  svg.append("line")
    .attr("x1", x(day)).attr("x2", x(day))
    .attr("y1", axisY).attr("y2", axisY + 7)
    .attr("stroke", ink).attr("stroke-width", 2);
});
monthStartDays.forEach(function(day) {
  svg.append("line")
    .attr("x1", x(day)).attr("x2", x(day))
    .attr("y1", axisY).attr("y2", axisY + 15)
    .attr("stroke", ink).attr("stroke-width", 3);
});
yearStartDays.forEach(function(day, i) {
  svg.append("line")
    .attr("x1", x(day)).attr("x2", x(day))
    .attr("y1", axisY - 13).attr("y2", axisY + 15)
    .attr("stroke", ink).attr("stroke-width", 3);
  label(yearLabels[i], x(day) + (i === 0 ? 2 : -4), 1443, 36, "middle");
});
monthLabels.forEach(function(m, i) {
  var mid = (monthStartDays[i] + monthStartDays[i + 1]) / 2;
  label(m, x(mid) - 3, 1529, 36, "middle");
});
</script>
</body>
</html>
